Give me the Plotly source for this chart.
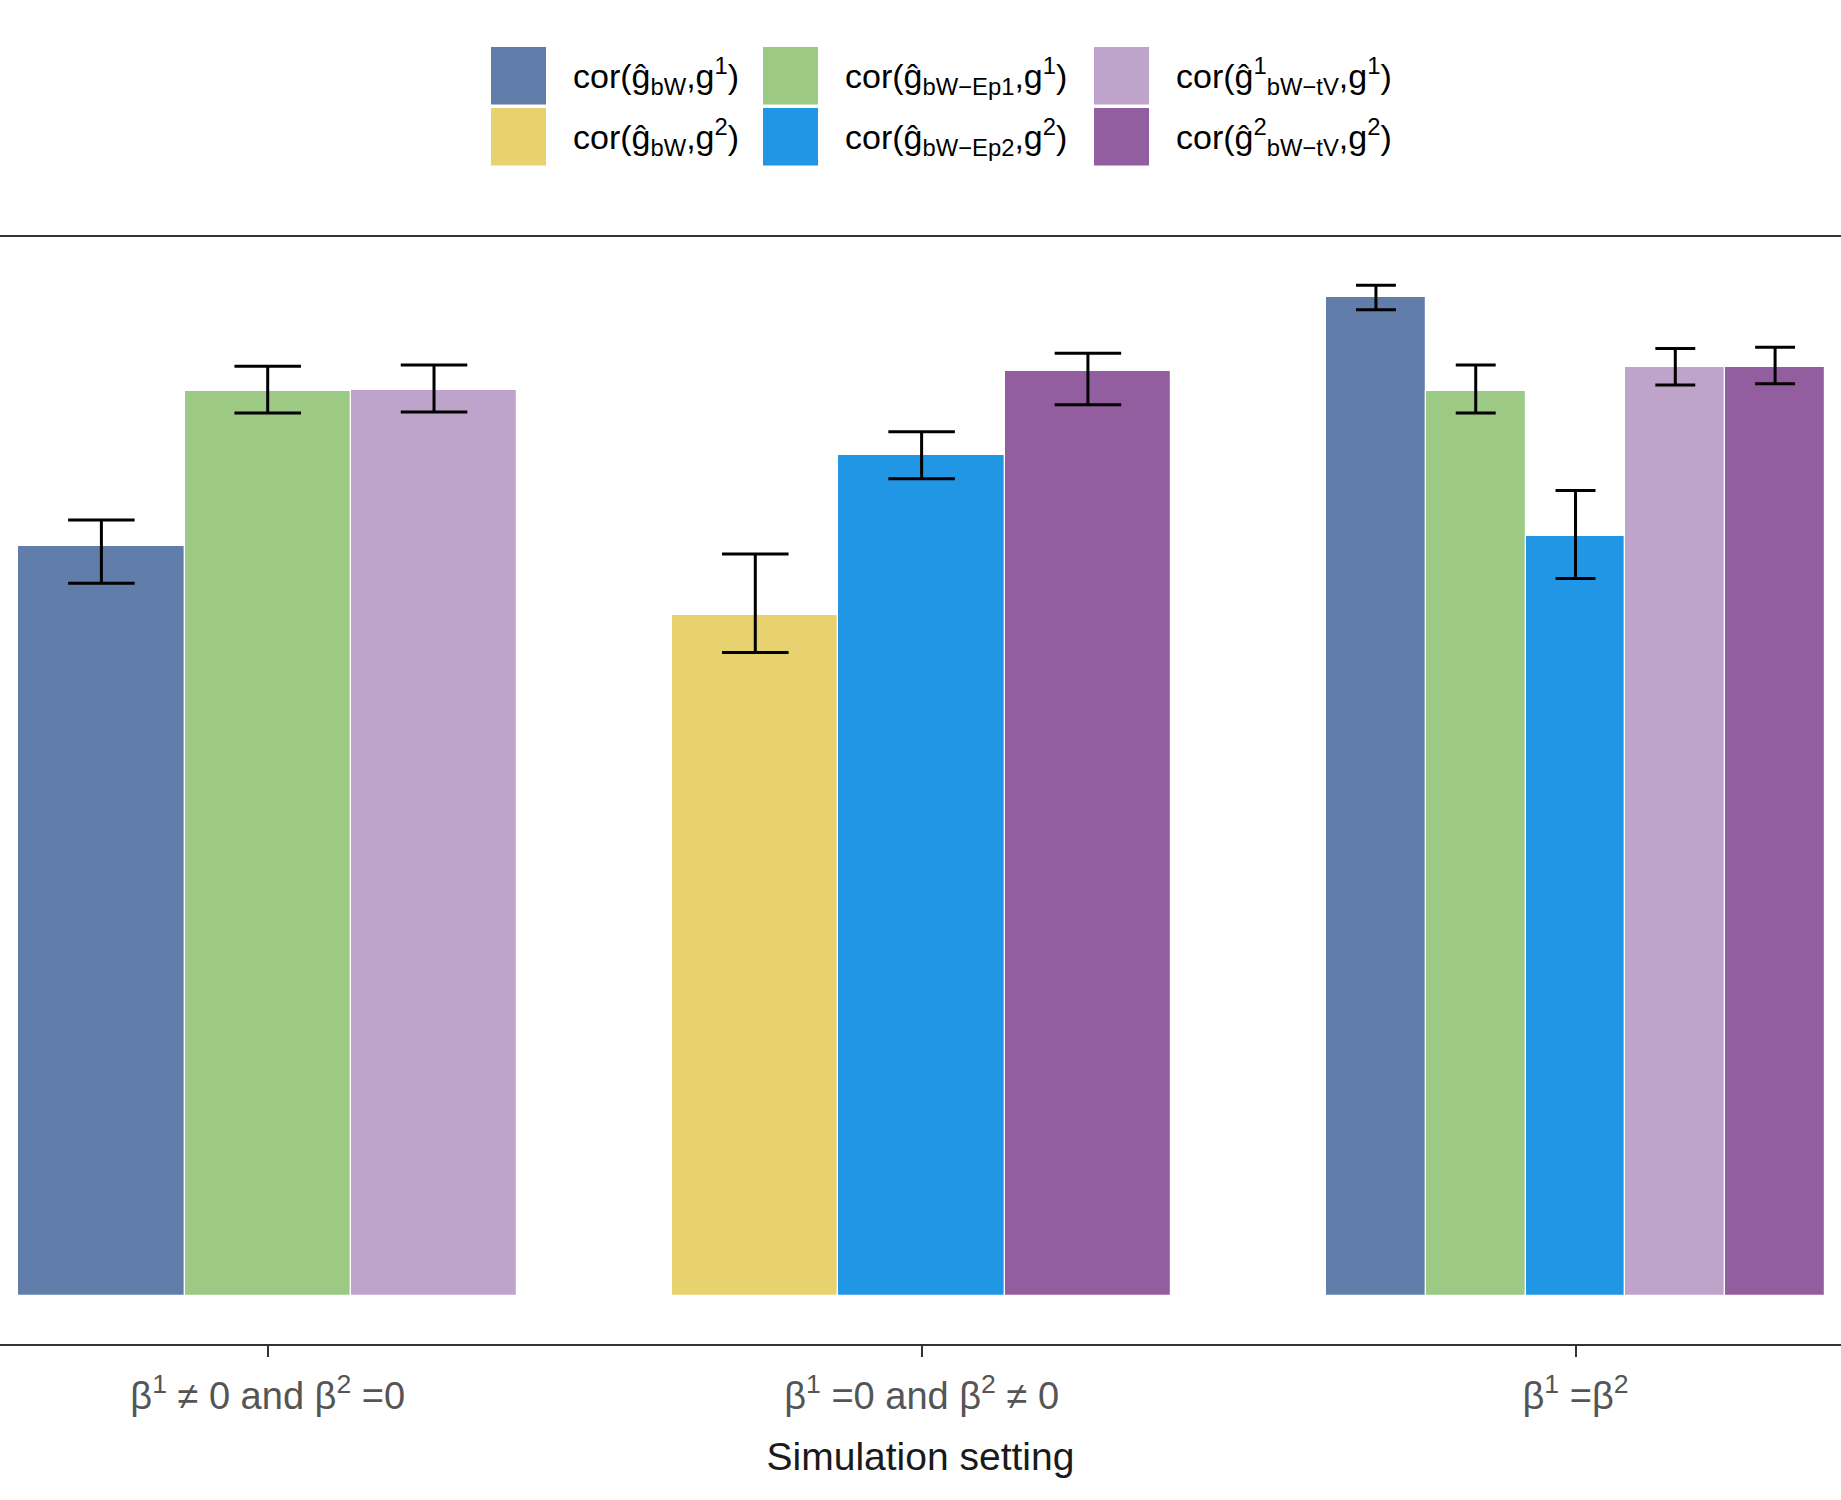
import plotly.graph_objects as go

# ---------------- data ----------------
categories = [
    "β<sup>1</sup> ≠ 0 and β<sup>2</sup> =0",
    "β<sup>1</sup> =0 and β<sup>2</sup> ≠ 0",
    "β<sup>1</sup> =β<sup>2</sup>",
]
series_labels = [
    "cor(ĝ<sub>bW</sub>,g<sup>1</sup>)",
    "cor(ĝ<sub>bW</sub>,g<sup>2</sup>)",
    "cor(ĝ<sub>bW−Ep1</sub>,g<sup>1</sup>)",
    "cor(ĝ<sub>bW−Ep2</sub>,g<sup>2</sup>)",
    "cor(ĝ<sup>1</sup><sub>bW−tV</sub>,g<sup>1</sup>)",
    "cor(ĝ<sup>2</sup><sub>bW−tV</sub>,g<sup>2</sup>)",
]
series_colors = ["#617DAA", "#E8D270", "#9CC983", "#2196E4", "#BEA4CB", "#925E9F"]

bw_g1_mean = [0.639, None, 0.851]
bw_g1_lo   = [0.607, None, 0.840]
bw_g1_hi   = [0.661, None, 0.861]

bw_g2_mean = [None, 0.580, None]
bw_g2_lo   = [None, 0.548, None]
bw_g2_hi   = [None, 0.632, None]

ep1_mean = [0.771, None, 0.771]
ep1_lo   = [0.752, None, 0.752]
ep1_hi   = [0.792, None, 0.793]

ep2_mean = [None, 0.716, 0.647]
ep2_lo   = [None, 0.696, 0.611]
ep2_hi   = [None, 0.736, 0.686]

tv1_mean = [0.772, None, 0.791]
tv1_lo   = [0.753, None, 0.776]
tv1_hi   = [0.793, None, 0.807]

tv2_mean = [None, 0.788, 0.791]
tv2_lo   = [None, 0.759, 0.777]
tv2_hi   = [None, 0.803, 0.808]

means = [bw_g1_mean, bw_g2_mean, ep1_mean, ep2_mean, tv1_mean, tv2_mean]
lows = [bw_g1_lo, bw_g2_lo, ep1_lo, ep2_lo, tv1_lo, tv2_lo]
highs = [bw_g1_hi, bw_g2_hi, ep1_hi, ep2_hi, tv1_hi, tv2_hi]

# ---------------- layout constants ----------------
W, H = 1841, 1500
M_T, M_B = 237, 156
X_RANGE = [0.5906, 3.406]
Y_RANGE = [-0.041, 0.902]
DODGE = 0.763
px_per_unit = W / (X_RANGE[1] - X_RANGE[0])
FONT = "Liberation Sans, Arial, sans-serif"

fig = go.Figure()

for g in range(len(categories)):
    present = [s for s in range(len(means)) if means[s][g] is not None]
    n = len(present)
    w = DODGE / n
    for idx, s in enumerate(present):
        x = (g + 1) + (idx - (n - 1) / 2) * w
        m = means[s][g]
        fig.add_trace(go.Bar(
            x=[x], y=[m], width=w,
            marker=dict(color=series_colors[s], line=dict(color="white", width=1.2)),
            error_y=dict(type="data", symmetric=False,
                         array=[highs[s][g] - m], arrayminus=[m - lows[s][g]],
                         color="black", thickness=3, width=0.4 * w * px_per_unit / 2),
            name=series_labels[s], showlegend=False, hoverinfo="skip",
        ))

# ---------------- manual legend (large keys) ----------------
plot_h = H - M_T - M_B
def py(ypix):
    return (H - M_B - ypix) / plot_h

key_cols_x = [491, 763, 1094]
text_cols_x = [571, 843, 1174]
key_rows_y = [(47, 104.5), (108, 165.5)]
legend_grid = [[0, 2, 4], [1, 3, 5]]  # row -> series index per column

shapes = []
annotations = []
for r, row in enumerate(legend_grid):
    for c, s in enumerate(row):
        y0, y1 = key_rows_y[r]
        shapes.append(dict(type="rect", xref="paper", yref="paper",
                           x0=key_cols_x[c] / W, x1=(key_cols_x[c] + 55) / W,
                           y0=py(y1), y1=py(y0),
                           fillcolor=series_colors[s], line=dict(width=0), layer="above"))
        annotations.append(dict(xref="paper", yref="paper",
                                x=text_cols_x[c] / W, y=py((y0 + y1) / 2),
                                xanchor="left", yanchor="middle", showarrow=False,
                                text=series_labels[s],
                                font=dict(family=FONT, size=34, color="black")))

fig.update_layout(
    width=W, height=H,
    margin=dict(l=0, r=0, t=M_T, b=M_B, pad=0),
    plot_bgcolor="white", paper_bgcolor="white",
    barmode="overlay", bargap=0,
    showlegend=False,
    shapes=shapes, annotations=annotations,
    font=dict(family=FONT),
)
fig.update_xaxes(
    range=X_RANGE, tickmode="array", tickvals=[1, 2, 3], ticktext=categories,
    showgrid=False, zeroline=False,
    showline=True, mirror=True, linecolor="#333333", linewidth=2,
    ticks="outside", ticklen=11, tickwidth=2, tickcolor="#333333",
    ticklabelstandoff=6,
    tickfont=dict(family=FONT, size=38, color="#555555"),
    title=dict(text="Simulation setting", font=dict(family=FONT, size=39, color="#1A1A1A"), standoff=27),
)
fig.update_yaxes(range=Y_RANGE, visible=False, showgrid=False, zeroline=False)

fig.write_html("out.html",
               config={"displayModeBar": False},
               post_script="document.body.style.margin='0';document.body.style.overflow='hidden';")
